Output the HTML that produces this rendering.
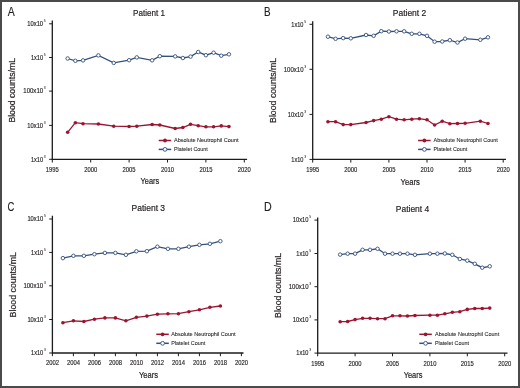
<!DOCTYPE html>
<html><head><meta charset="utf-8"><style>
html,body{margin:0;padding:0;background:#fff;}
body{width:520px;height:388px;overflow:hidden;position:relative;}
.frame{position:absolute;left:0;top:0;width:516px;height:384px;border:2px solid #4a4a4a;}
svg{position:absolute;left:0;top:0;will-change:transform;}
text{font-family:"Liberation Sans",sans-serif;stroke:#231f20;}
</style></head><body>
<div class="frame"></div>
<svg width="520" height="388" viewBox="0 0 520 388">
<text x="7.7" y="16.1" font-size="12" text-anchor="start" fill="#231f20" textLength="7.0" lengthAdjust="spacingAndGlyphs"  stroke-width="0.15">A</text>
<text x="133" y="15.8" font-size="9.3" text-anchor="start" fill="#231f20" textLength="32" lengthAdjust="spacingAndGlyphs"  stroke-width="0.2">Patient 1</text>
<path d="M52.3 20.5 V159.3 H247.1" fill="none" stroke="#1c1c1c" stroke-width="1.3"/>
<path d="M49.099999999999994 23.8 H52.3" stroke="#1c1c1c" stroke-width="1"/>
<text x="27.3" y="26.1" font-size="6.6" text-anchor="start" fill="#231f20" textLength="15.8" lengthAdjust="spacingAndGlyphs"  stroke-width="0.15">10x10</text>
<text x="43.8" y="22.0" font-size="3.4" text-anchor="start" fill="#231f20"  stroke-width="0.05">5</text>
<path d="M49.099999999999994 57.5 H52.3" stroke="#1c1c1c" stroke-width="1"/>
<text x="30.9" y="59.8" font-size="6.6" text-anchor="start" fill="#231f20" textLength="12.2" lengthAdjust="spacingAndGlyphs"  stroke-width="0.15">1x10</text>
<text x="43.8" y="55.7" font-size="3.4" text-anchor="start" fill="#231f20"  stroke-width="0.05">5</text>
<path d="M49.099999999999994 91.1 H52.3" stroke="#1c1c1c" stroke-width="1"/>
<text x="23.3" y="93.4" font-size="6.6" text-anchor="start" fill="#231f20" textLength="19.8" lengthAdjust="spacingAndGlyphs"  stroke-width="0.15">100x10</text>
<text x="43.8" y="89.3" font-size="3.4" text-anchor="start" fill="#231f20"  stroke-width="0.05">3</text>
<path d="M49.099999999999994 125.4 H52.3" stroke="#1c1c1c" stroke-width="1"/>
<text x="27.3" y="127.7" font-size="6.6" text-anchor="start" fill="#231f20" textLength="15.8" lengthAdjust="spacingAndGlyphs"  stroke-width="0.15">10x10</text>
<text x="43.8" y="123.6" font-size="3.4" text-anchor="start" fill="#231f20"  stroke-width="0.05">3</text>
<path d="M49.099999999999994 159.3 H52.3" stroke="#1c1c1c" stroke-width="1"/>
<text x="30.9" y="161.6" font-size="6.6" text-anchor="start" fill="#231f20" textLength="12.2" lengthAdjust="spacingAndGlyphs"  stroke-width="0.15">1x10</text>
<text x="43.8" y="157.5" font-size="3.4" text-anchor="start" fill="#231f20"  stroke-width="0.05">3</text>
<path d="M52.3 159.3 V162.5" stroke="#1c1c1c" stroke-width="1"/>
<text x="52.3" y="171.7" font-size="6.6" text-anchor="middle" fill="#231f20" textLength="13.0" lengthAdjust="spacingAndGlyphs"  stroke-width="0.15">1995</text>
<path d="M90.7 159.3 V162.5" stroke="#1c1c1c" stroke-width="1"/>
<text x="90.7" y="171.7" font-size="6.6" text-anchor="middle" fill="#231f20" textLength="13.0" lengthAdjust="spacingAndGlyphs"  stroke-width="0.15">2000</text>
<path d="M129.1 159.3 V162.5" stroke="#1c1c1c" stroke-width="1"/>
<text x="129.1" y="171.7" font-size="6.6" text-anchor="middle" fill="#231f20" textLength="13.0" lengthAdjust="spacingAndGlyphs"  stroke-width="0.15">2005</text>
<path d="M167.5 159.3 V162.5" stroke="#1c1c1c" stroke-width="1"/>
<text x="167.5" y="171.7" font-size="6.6" text-anchor="middle" fill="#231f20" textLength="13.0" lengthAdjust="spacingAndGlyphs"  stroke-width="0.15">2010</text>
<path d="M205.9 159.3 V162.5" stroke="#1c1c1c" stroke-width="1"/>
<text x="205.9" y="171.7" font-size="6.6" text-anchor="middle" fill="#231f20" textLength="13.0" lengthAdjust="spacingAndGlyphs"  stroke-width="0.15">2015</text>
<path d="M244.3 159.3 V162.5" stroke="#1c1c1c" stroke-width="1"/>
<text x="244.3" y="171.7" font-size="6.6" text-anchor="middle" fill="#231f20" textLength="13.0" lengthAdjust="spacingAndGlyphs"  stroke-width="0.15">2020</text>
<text x="140.5" y="184.3" font-size="8.5" text-anchor="start" fill="#231f20" textLength="18.7" lengthAdjust="spacingAndGlyphs"  stroke-width="0.2">Years</text>
<text transform="translate(15.1 122.6) rotate(-90)" x="0" y="0" font-size="8.4" fill="#231f20" stroke-width="0.2" textLength="64.6" lengthAdjust="spacingAndGlyphs">Blood counts/mL</text>
<polyline points="67.66,58.5 75.34,60.8 83.02,60.4 98.38,55.4 113.74,62.9 129.1,60.2 136.78,57.4 152.14,60.3 159.82,56.2 175.18,56.4 182.86,58 190.54,56.6 198.22,52 205.9,55.2 213.58,52.7 221.26,55.7 228.94,54.3" fill="none" stroke="#34507c" stroke-width="1.3"/>
<circle cx="67.66" cy="58.5" r="1.75" fill="#fff" stroke="#34507c" stroke-width="0.9"/>
<circle cx="75.34" cy="60.8" r="1.75" fill="#fff" stroke="#34507c" stroke-width="0.9"/>
<circle cx="83.02" cy="60.4" r="1.75" fill="#fff" stroke="#34507c" stroke-width="0.9"/>
<circle cx="98.38" cy="55.4" r="1.75" fill="#fff" stroke="#34507c" stroke-width="0.9"/>
<circle cx="113.74" cy="62.9" r="1.75" fill="#fff" stroke="#34507c" stroke-width="0.9"/>
<circle cx="129.1" cy="60.2" r="1.75" fill="#fff" stroke="#34507c" stroke-width="0.9"/>
<circle cx="136.78" cy="57.4" r="1.75" fill="#fff" stroke="#34507c" stroke-width="0.9"/>
<circle cx="152.14" cy="60.3" r="1.75" fill="#fff" stroke="#34507c" stroke-width="0.9"/>
<circle cx="159.82" cy="56.2" r="1.75" fill="#fff" stroke="#34507c" stroke-width="0.9"/>
<circle cx="175.18" cy="56.4" r="1.75" fill="#fff" stroke="#34507c" stroke-width="0.9"/>
<circle cx="182.86" cy="58" r="1.75" fill="#fff" stroke="#34507c" stroke-width="0.9"/>
<circle cx="190.54" cy="56.6" r="1.75" fill="#fff" stroke="#34507c" stroke-width="0.9"/>
<circle cx="198.22" cy="52" r="1.75" fill="#fff" stroke="#34507c" stroke-width="0.9"/>
<circle cx="205.9" cy="55.2" r="1.75" fill="#fff" stroke="#34507c" stroke-width="0.9"/>
<circle cx="213.58" cy="52.7" r="1.75" fill="#fff" stroke="#34507c" stroke-width="0.9"/>
<circle cx="221.26" cy="55.7" r="1.75" fill="#fff" stroke="#34507c" stroke-width="0.9"/>
<circle cx="228.94" cy="54.3" r="1.75" fill="#fff" stroke="#34507c" stroke-width="0.9"/>
<polyline points="67.66,132.3 75.34,122.7 83.02,123.7 98.38,124 113.74,126.2 129.1,126.5 136.78,126.2 152.14,124.5 159.82,125 175.18,128.5 182.86,127.5 190.54,124.3 198.22,125.7 205.9,126.8 213.58,126.8 221.26,125.9 228.94,126.6" fill="none" stroke="#9c1530" stroke-width="1.3"/>
<circle cx="67.66" cy="132.3" r="1.8" fill="#9c1530"/>
<circle cx="75.34" cy="122.7" r="1.8" fill="#9c1530"/>
<circle cx="83.02" cy="123.7" r="1.8" fill="#9c1530"/>
<circle cx="98.38" cy="124" r="1.8" fill="#9c1530"/>
<circle cx="113.74" cy="126.2" r="1.8" fill="#9c1530"/>
<circle cx="129.1" cy="126.5" r="1.8" fill="#9c1530"/>
<circle cx="136.78" cy="126.2" r="1.8" fill="#9c1530"/>
<circle cx="152.14" cy="124.5" r="1.8" fill="#9c1530"/>
<circle cx="159.82" cy="125" r="1.8" fill="#9c1530"/>
<circle cx="175.18" cy="128.5" r="1.8" fill="#9c1530"/>
<circle cx="182.86" cy="127.5" r="1.8" fill="#9c1530"/>
<circle cx="190.54" cy="124.3" r="1.8" fill="#9c1530"/>
<circle cx="198.22" cy="125.7" r="1.8" fill="#9c1530"/>
<circle cx="205.9" cy="126.8" r="1.8" fill="#9c1530"/>
<circle cx="213.58" cy="126.8" r="1.8" fill="#9c1530"/>
<circle cx="221.26" cy="125.9" r="1.8" fill="#9c1530"/>
<circle cx="228.94" cy="126.6" r="1.8" fill="#9c1530"/>
<path d="M158.7 140.5 h12.5" stroke="#9c1530" stroke-width="1.5"/><circle cx="165.0" cy="140.5" r="1.9" fill="#9c1530"/>
<path d="M158.7 149.4 h12.5" stroke="#34507c" stroke-width="1.5"/><circle cx="165.0" cy="149.4" r="1.9" fill="#fff" stroke="#34507c" stroke-width="0.9"/>
<text x="174" y="142.0" font-size="5.7" text-anchor="start" fill="#231f20" textLength="64.5" lengthAdjust="spacingAndGlyphs"  stroke-width="0.08">Absolute Neutrophil Count</text>
<text x="174" y="151.3" font-size="5.7" text-anchor="start" fill="#231f20" textLength="33.7" lengthAdjust="spacingAndGlyphs"  stroke-width="0.08">Platelet Count</text>
<text x="263.9" y="16.0" font-size="12" text-anchor="start" fill="#231f20" textLength="6.6" lengthAdjust="spacingAndGlyphs"  stroke-width="0.15">B</text>
<text x="392.8" y="16.2" font-size="9.3" text-anchor="start" fill="#231f20" textLength="33.4" lengthAdjust="spacingAndGlyphs"  stroke-width="0.2">Patient 2</text>
<path d="M312.7 21.2 V159.4 H506" fill="none" stroke="#1c1c1c" stroke-width="1.3"/>
<path d="M309.5 24.3 H312.7" stroke="#1c1c1c" stroke-width="1"/>
<text x="291.3" y="26.6" font-size="6.6" text-anchor="start" fill="#231f20" textLength="12.2" lengthAdjust="spacingAndGlyphs"  stroke-width="0.15">1x10</text>
<text x="304.2" y="22.5" font-size="3.4" text-anchor="start" fill="#231f20"  stroke-width="0.05">5</text>
<path d="M309.5 69.3 H312.7" stroke="#1c1c1c" stroke-width="1"/>
<text x="283.7" y="71.6" font-size="6.6" text-anchor="start" fill="#231f20" textLength="19.8" lengthAdjust="spacingAndGlyphs"  stroke-width="0.15">100x10</text>
<text x="304.2" y="67.5" font-size="3.4" text-anchor="start" fill="#231f20"  stroke-width="0.05">3</text>
<path d="M309.5 114.4 H312.7" stroke="#1c1c1c" stroke-width="1"/>
<text x="287.7" y="116.7" font-size="6.6" text-anchor="start" fill="#231f20" textLength="15.8" lengthAdjust="spacingAndGlyphs"  stroke-width="0.15">10x10</text>
<text x="304.2" y="112.6" font-size="3.4" text-anchor="start" fill="#231f20"  stroke-width="0.05">3</text>
<path d="M309.5 159.4 H312.7" stroke="#1c1c1c" stroke-width="1"/>
<text x="291.3" y="161.7" font-size="6.6" text-anchor="start" fill="#231f20" textLength="12.2" lengthAdjust="spacingAndGlyphs"  stroke-width="0.15">1x10</text>
<text x="304.2" y="157.6" font-size="3.4" text-anchor="start" fill="#231f20"  stroke-width="0.05">3</text>
<path d="M312.7 159.4 V162.6" stroke="#1c1c1c" stroke-width="1"/>
<text x="312.7" y="171.8" font-size="6.6" text-anchor="middle" fill="#231f20" textLength="13.0" lengthAdjust="spacingAndGlyphs"  stroke-width="0.15">1995</text>
<path d="M350.8 159.4 V162.6" stroke="#1c1c1c" stroke-width="1"/>
<text x="350.8" y="171.8" font-size="6.6" text-anchor="middle" fill="#231f20" textLength="13.0" lengthAdjust="spacingAndGlyphs"  stroke-width="0.15">2000</text>
<path d="M388.9 159.4 V162.6" stroke="#1c1c1c" stroke-width="1"/>
<text x="388.9" y="171.8" font-size="6.6" text-anchor="middle" fill="#231f20" textLength="13.0" lengthAdjust="spacingAndGlyphs"  stroke-width="0.15">2005</text>
<path d="M427.0 159.4 V162.6" stroke="#1c1c1c" stroke-width="1"/>
<text x="427.0" y="171.8" font-size="6.6" text-anchor="middle" fill="#231f20" textLength="13.0" lengthAdjust="spacingAndGlyphs"  stroke-width="0.15">2010</text>
<path d="M465.1 159.4 V162.6" stroke="#1c1c1c" stroke-width="1"/>
<text x="465.1" y="171.8" font-size="6.6" text-anchor="middle" fill="#231f20" textLength="13.0" lengthAdjust="spacingAndGlyphs"  stroke-width="0.15">2015</text>
<path d="M503.2 159.4 V162.6" stroke="#1c1c1c" stroke-width="1"/>
<text x="503.2" y="171.8" font-size="6.6" text-anchor="middle" fill="#231f20" textLength="13.0" lengthAdjust="spacingAndGlyphs"  stroke-width="0.15">2020</text>
<text x="400.5" y="184.5" font-size="8.5" text-anchor="start" fill="#231f20" textLength="19.3" lengthAdjust="spacingAndGlyphs"  stroke-width="0.2">Years</text>
<text transform="translate(275.9 122.9) rotate(-90)" x="0" y="0" font-size="8.4" fill="#231f20" stroke-width="0.2" textLength="65.1" lengthAdjust="spacingAndGlyphs">Blood counts/mL</text>
<polyline points="327.94,36.7 335.56,38.8 343.18,38.1 350.8,38.3 366.04,35 373.66,35.8 381.28,31.2 388.9,31.5 396.52,31.3 404.14,31.3 411.76,33.8 419.38,33.8 427.0,35.8 434.62,41.7 442.24,41.5 449.86,40.2 457.48,42.5 465.1,38.7 480.34,39.8 487.96,37.3" fill="none" stroke="#34507c" stroke-width="1.3"/>
<circle cx="327.94" cy="36.7" r="1.75" fill="#fff" stroke="#34507c" stroke-width="0.9"/>
<circle cx="335.56" cy="38.8" r="1.75" fill="#fff" stroke="#34507c" stroke-width="0.9"/>
<circle cx="343.18" cy="38.1" r="1.75" fill="#fff" stroke="#34507c" stroke-width="0.9"/>
<circle cx="350.8" cy="38.3" r="1.75" fill="#fff" stroke="#34507c" stroke-width="0.9"/>
<circle cx="366.04" cy="35" r="1.75" fill="#fff" stroke="#34507c" stroke-width="0.9"/>
<circle cx="373.66" cy="35.8" r="1.75" fill="#fff" stroke="#34507c" stroke-width="0.9"/>
<circle cx="381.28" cy="31.2" r="1.75" fill="#fff" stroke="#34507c" stroke-width="0.9"/>
<circle cx="388.9" cy="31.5" r="1.75" fill="#fff" stroke="#34507c" stroke-width="0.9"/>
<circle cx="396.52" cy="31.3" r="1.75" fill="#fff" stroke="#34507c" stroke-width="0.9"/>
<circle cx="404.14" cy="31.3" r="1.75" fill="#fff" stroke="#34507c" stroke-width="0.9"/>
<circle cx="411.76" cy="33.8" r="1.75" fill="#fff" stroke="#34507c" stroke-width="0.9"/>
<circle cx="419.38" cy="33.8" r="1.75" fill="#fff" stroke="#34507c" stroke-width="0.9"/>
<circle cx="427.0" cy="35.8" r="1.75" fill="#fff" stroke="#34507c" stroke-width="0.9"/>
<circle cx="434.62" cy="41.7" r="1.75" fill="#fff" stroke="#34507c" stroke-width="0.9"/>
<circle cx="442.24" cy="41.5" r="1.75" fill="#fff" stroke="#34507c" stroke-width="0.9"/>
<circle cx="449.86" cy="40.2" r="1.75" fill="#fff" stroke="#34507c" stroke-width="0.9"/>
<circle cx="457.48" cy="42.5" r="1.75" fill="#fff" stroke="#34507c" stroke-width="0.9"/>
<circle cx="465.1" cy="38.7" r="1.75" fill="#fff" stroke="#34507c" stroke-width="0.9"/>
<circle cx="480.34" cy="39.8" r="1.75" fill="#fff" stroke="#34507c" stroke-width="0.9"/>
<circle cx="487.96" cy="37.3" r="1.75" fill="#fff" stroke="#34507c" stroke-width="0.9"/>
<polyline points="327.94,121.7 335.56,121.7 343.18,124.6 350.8,124.6 366.04,122.5 373.66,120.6 381.28,119.2 388.9,116.7 396.52,119.2 404.14,119.8 411.76,119.2 419.38,118.7 427.0,119.8 434.62,125 442.24,121.2 449.86,123.7 457.48,123.5 465.1,123.3 480.34,121.2 487.96,123.5" fill="none" stroke="#9c1530" stroke-width="1.3"/>
<circle cx="327.94" cy="121.7" r="1.8" fill="#9c1530"/>
<circle cx="335.56" cy="121.7" r="1.8" fill="#9c1530"/>
<circle cx="343.18" cy="124.6" r="1.8" fill="#9c1530"/>
<circle cx="350.8" cy="124.6" r="1.8" fill="#9c1530"/>
<circle cx="366.04" cy="122.5" r="1.8" fill="#9c1530"/>
<circle cx="373.66" cy="120.6" r="1.8" fill="#9c1530"/>
<circle cx="381.28" cy="119.2" r="1.8" fill="#9c1530"/>
<circle cx="388.9" cy="116.7" r="1.8" fill="#9c1530"/>
<circle cx="396.52" cy="119.2" r="1.8" fill="#9c1530"/>
<circle cx="404.14" cy="119.8" r="1.8" fill="#9c1530"/>
<circle cx="411.76" cy="119.2" r="1.8" fill="#9c1530"/>
<circle cx="419.38" cy="118.7" r="1.8" fill="#9c1530"/>
<circle cx="427.0" cy="119.8" r="1.8" fill="#9c1530"/>
<circle cx="434.62" cy="125" r="1.8" fill="#9c1530"/>
<circle cx="442.24" cy="121.2" r="1.8" fill="#9c1530"/>
<circle cx="449.86" cy="123.7" r="1.8" fill="#9c1530"/>
<circle cx="457.48" cy="123.5" r="1.8" fill="#9c1530"/>
<circle cx="465.1" cy="123.3" r="1.8" fill="#9c1530"/>
<circle cx="480.34" cy="121.2" r="1.8" fill="#9c1530"/>
<circle cx="487.96" cy="123.5" r="1.8" fill="#9c1530"/>
<path d="M418.1 140.5 h12.5" stroke="#9c1530" stroke-width="1.5"/><circle cx="424.40000000000003" cy="140.5" r="1.9" fill="#9c1530"/>
<path d="M418.1 149.4 h12.5" stroke="#34507c" stroke-width="1.5"/><circle cx="424.40000000000003" cy="149.4" r="1.9" fill="#fff" stroke="#34507c" stroke-width="0.9"/>
<text x="433.5" y="142.0" font-size="5.7" text-anchor="start" fill="#231f20" textLength="64.4" lengthAdjust="spacingAndGlyphs"  stroke-width="0.08">Absolute Neutrophil Count</text>
<text x="433.5" y="151.3" font-size="5.7" text-anchor="start" fill="#231f20" textLength="33.7" lengthAdjust="spacingAndGlyphs"  stroke-width="0.08">Platelet Count</text>
<text x="7.4" y="211.0" font-size="12" text-anchor="start" fill="#231f20" textLength="6.8" lengthAdjust="spacingAndGlyphs"  stroke-width="0.15">C</text>
<text x="131.5" y="211.1" font-size="9.3" text-anchor="start" fill="#231f20" textLength="33.6" lengthAdjust="spacingAndGlyphs"  stroke-width="0.2">Patient 3</text>
<path d="M52.4 215.8 V353.0 H243.5" fill="none" stroke="#1c1c1c" stroke-width="1.3"/>
<path d="M49.199999999999996 219 H52.4" stroke="#1c1c1c" stroke-width="1"/>
<text x="27.4" y="221.3" font-size="6.6" text-anchor="start" fill="#231f20" textLength="15.8" lengthAdjust="spacingAndGlyphs"  stroke-width="0.15">10x10</text>
<text x="43.9" y="217.2" font-size="3.4" text-anchor="start" fill="#231f20"  stroke-width="0.05">5</text>
<path d="M49.199999999999996 252.4 H52.4" stroke="#1c1c1c" stroke-width="1"/>
<text x="31.0" y="254.7" font-size="6.6" text-anchor="start" fill="#231f20" textLength="12.2" lengthAdjust="spacingAndGlyphs"  stroke-width="0.15">1x10</text>
<text x="43.9" y="250.6" font-size="3.4" text-anchor="start" fill="#231f20"  stroke-width="0.05">5</text>
<path d="M49.199999999999996 285.8 H52.4" stroke="#1c1c1c" stroke-width="1"/>
<text x="23.4" y="288.1" font-size="6.6" text-anchor="start" fill="#231f20" textLength="19.8" lengthAdjust="spacingAndGlyphs"  stroke-width="0.15">100x10</text>
<text x="43.9" y="284.0" font-size="3.4" text-anchor="start" fill="#231f20"  stroke-width="0.05">3</text>
<path d="M49.199999999999996 319.5 H52.4" stroke="#1c1c1c" stroke-width="1"/>
<text x="27.4" y="321.8" font-size="6.6" text-anchor="start" fill="#231f20" textLength="15.8" lengthAdjust="spacingAndGlyphs"  stroke-width="0.15">10x10</text>
<text x="43.9" y="317.7" font-size="3.4" text-anchor="start" fill="#231f20"  stroke-width="0.05">3</text>
<path d="M49.199999999999996 353 H52.4" stroke="#1c1c1c" stroke-width="1"/>
<text x="31.0" y="355.3" font-size="6.6" text-anchor="start" fill="#231f20" textLength="12.2" lengthAdjust="spacingAndGlyphs"  stroke-width="0.15">1x10</text>
<text x="43.9" y="351.2" font-size="3.4" text-anchor="start" fill="#231f20"  stroke-width="0.05">3</text>
<path d="M52.4 353.0 V356.2" stroke="#1c1c1c" stroke-width="1"/>
<text x="52.4" y="365.4" font-size="6.6" text-anchor="middle" fill="#231f20" textLength="13.0" lengthAdjust="spacingAndGlyphs"  stroke-width="0.15">2002</text>
<path d="M73.4 353.0 V356.2" stroke="#1c1c1c" stroke-width="1"/>
<text x="73.4" y="365.4" font-size="6.6" text-anchor="middle" fill="#231f20" textLength="13.0" lengthAdjust="spacingAndGlyphs"  stroke-width="0.15">2004</text>
<path d="M94.4 353.0 V356.2" stroke="#1c1c1c" stroke-width="1"/>
<text x="94.4" y="365.4" font-size="6.6" text-anchor="middle" fill="#231f20" textLength="13.0" lengthAdjust="spacingAndGlyphs"  stroke-width="0.15">2006</text>
<path d="M115.4 353.0 V356.2" stroke="#1c1c1c" stroke-width="1"/>
<text x="115.4" y="365.4" font-size="6.6" text-anchor="middle" fill="#231f20" textLength="13.0" lengthAdjust="spacingAndGlyphs"  stroke-width="0.15">2008</text>
<path d="M136.4 353.0 V356.2" stroke="#1c1c1c" stroke-width="1"/>
<text x="136.4" y="365.4" font-size="6.6" text-anchor="middle" fill="#231f20" textLength="13.0" lengthAdjust="spacingAndGlyphs"  stroke-width="0.15">2010</text>
<path d="M157.4 353.0 V356.2" stroke="#1c1c1c" stroke-width="1"/>
<text x="157.4" y="365.4" font-size="6.6" text-anchor="middle" fill="#231f20" textLength="13.0" lengthAdjust="spacingAndGlyphs"  stroke-width="0.15">2012</text>
<path d="M178.4 353.0 V356.2" stroke="#1c1c1c" stroke-width="1"/>
<text x="178.4" y="365.4" font-size="6.6" text-anchor="middle" fill="#231f20" textLength="13.0" lengthAdjust="spacingAndGlyphs"  stroke-width="0.15">2014</text>
<path d="M199.4 353.0 V356.2" stroke="#1c1c1c" stroke-width="1"/>
<text x="199.4" y="365.4" font-size="6.6" text-anchor="middle" fill="#231f20" textLength="13.0" lengthAdjust="spacingAndGlyphs"  stroke-width="0.15">2016</text>
<path d="M220.4 353.0 V356.2" stroke="#1c1c1c" stroke-width="1"/>
<text x="220.4" y="365.4" font-size="6.6" text-anchor="middle" fill="#231f20" textLength="13.0" lengthAdjust="spacingAndGlyphs"  stroke-width="0.15">2018</text>
<path d="M241.4 353.0 V356.2" stroke="#1c1c1c" stroke-width="1"/>
<text x="241.4" y="365.4" font-size="6.6" text-anchor="middle" fill="#231f20" textLength="13.0" lengthAdjust="spacingAndGlyphs"  stroke-width="0.15">2020</text>
<text x="139" y="377.8" font-size="8.5" text-anchor="start" fill="#231f20" textLength="19.1" lengthAdjust="spacingAndGlyphs"  stroke-width="0.2">Years</text>
<text transform="translate(15.8 317.4) rotate(-90)" x="0" y="0" font-size="8.4" fill="#231f20" stroke-width="0.2" textLength="65.4" lengthAdjust="spacingAndGlyphs">Blood counts/mL</text>
<polyline points="62.9,258.1 73.4,255.8 83.9,255.8 94.4,254.2 104.9,252.9 115.4,252.9 125.9,254.8 136.4,251.3 146.9,251.2 157.4,246.7 167.9,248.8 178.4,248.8 188.9,246.7 199.4,244.8 209.9,243.8 220.4,241.2" fill="none" stroke="#34507c" stroke-width="1.3"/>
<circle cx="62.9" cy="258.1" r="1.75" fill="#fff" stroke="#34507c" stroke-width="0.9"/>
<circle cx="73.4" cy="255.8" r="1.75" fill="#fff" stroke="#34507c" stroke-width="0.9"/>
<circle cx="83.9" cy="255.8" r="1.75" fill="#fff" stroke="#34507c" stroke-width="0.9"/>
<circle cx="94.4" cy="254.2" r="1.75" fill="#fff" stroke="#34507c" stroke-width="0.9"/>
<circle cx="104.9" cy="252.9" r="1.75" fill="#fff" stroke="#34507c" stroke-width="0.9"/>
<circle cx="115.4" cy="252.9" r="1.75" fill="#fff" stroke="#34507c" stroke-width="0.9"/>
<circle cx="125.9" cy="254.8" r="1.75" fill="#fff" stroke="#34507c" stroke-width="0.9"/>
<circle cx="136.4" cy="251.3" r="1.75" fill="#fff" stroke="#34507c" stroke-width="0.9"/>
<circle cx="146.9" cy="251.2" r="1.75" fill="#fff" stroke="#34507c" stroke-width="0.9"/>
<circle cx="157.4" cy="246.7" r="1.75" fill="#fff" stroke="#34507c" stroke-width="0.9"/>
<circle cx="167.9" cy="248.8" r="1.75" fill="#fff" stroke="#34507c" stroke-width="0.9"/>
<circle cx="178.4" cy="248.8" r="1.75" fill="#fff" stroke="#34507c" stroke-width="0.9"/>
<circle cx="188.9" cy="246.7" r="1.75" fill="#fff" stroke="#34507c" stroke-width="0.9"/>
<circle cx="199.4" cy="244.8" r="1.75" fill="#fff" stroke="#34507c" stroke-width="0.9"/>
<circle cx="209.9" cy="243.8" r="1.75" fill="#fff" stroke="#34507c" stroke-width="0.9"/>
<circle cx="220.4" cy="241.2" r="1.75" fill="#fff" stroke="#34507c" stroke-width="0.9"/>
<polyline points="62.9,322.7 73.4,320.8 83.9,321.5 94.4,319.2 104.9,317.9 115.4,317.9 125.9,320.8 136.4,317.3 146.9,316.1 157.4,314.2 167.9,313.8 178.4,313.7 188.9,311.7 199.4,309.8 209.9,307.3 220.4,306" fill="none" stroke="#9c1530" stroke-width="1.3"/>
<circle cx="62.9" cy="322.7" r="1.8" fill="#9c1530"/>
<circle cx="73.4" cy="320.8" r="1.8" fill="#9c1530"/>
<circle cx="83.9" cy="321.5" r="1.8" fill="#9c1530"/>
<circle cx="94.4" cy="319.2" r="1.8" fill="#9c1530"/>
<circle cx="104.9" cy="317.9" r="1.8" fill="#9c1530"/>
<circle cx="115.4" cy="317.9" r="1.8" fill="#9c1530"/>
<circle cx="125.9" cy="320.8" r="1.8" fill="#9c1530"/>
<circle cx="136.4" cy="317.3" r="1.8" fill="#9c1530"/>
<circle cx="146.9" cy="316.1" r="1.8" fill="#9c1530"/>
<circle cx="157.4" cy="314.2" r="1.8" fill="#9c1530"/>
<circle cx="167.9" cy="313.8" r="1.8" fill="#9c1530"/>
<circle cx="178.4" cy="313.7" r="1.8" fill="#9c1530"/>
<circle cx="188.9" cy="311.7" r="1.8" fill="#9c1530"/>
<circle cx="199.4" cy="309.8" r="1.8" fill="#9c1530"/>
<circle cx="209.9" cy="307.3" r="1.8" fill="#9c1530"/>
<circle cx="220.4" cy="306" r="1.8" fill="#9c1530"/>
<path d="M156.3 334.3 h12.5" stroke="#9c1530" stroke-width="1.5"/><circle cx="162.60000000000002" cy="334.3" r="1.9" fill="#9c1530"/>
<path d="M156.3 343.3 h12.5" stroke="#34507c" stroke-width="1.5"/><circle cx="162.60000000000002" cy="343.3" r="1.9" fill="#fff" stroke="#34507c" stroke-width="0.9"/>
<text x="171.2" y="335.8" font-size="5.7" text-anchor="start" fill="#231f20" textLength="64.4" lengthAdjust="spacingAndGlyphs"  stroke-width="0.08">Absolute Neutrophil Count</text>
<text x="171.2" y="345.2" font-size="5.7" text-anchor="start" fill="#231f20" textLength="34.2" lengthAdjust="spacingAndGlyphs"  stroke-width="0.08">Platelet Count</text>
<text x="263.9" y="210.7" font-size="12" text-anchor="start" fill="#231f20" textLength="7.7" lengthAdjust="spacingAndGlyphs"  stroke-width="0.15">D</text>
<text x="395.8" y="212.3" font-size="9.3" text-anchor="start" fill="#231f20" textLength="33.4" lengthAdjust="spacingAndGlyphs"  stroke-width="0.2">Patient 4</text>
<path d="M317.7 217.4 V353.1 H507.5" fill="none" stroke="#1c1c1c" stroke-width="1.3"/>
<path d="M314.5 220.1 H317.7" stroke="#1c1c1c" stroke-width="1"/>
<text x="292.7" y="222.4" font-size="6.6" text-anchor="start" fill="#231f20" textLength="15.8" lengthAdjust="spacingAndGlyphs"  stroke-width="0.15">10x10</text>
<text x="309.2" y="218.3" font-size="3.4" text-anchor="start" fill="#231f20"  stroke-width="0.05">5</text>
<path d="M314.5 253.5 H317.7" stroke="#1c1c1c" stroke-width="1"/>
<text x="296.3" y="255.8" font-size="6.6" text-anchor="start" fill="#231f20" textLength="12.2" lengthAdjust="spacingAndGlyphs"  stroke-width="0.15">1x10</text>
<text x="309.2" y="251.7" font-size="3.4" text-anchor="start" fill="#231f20"  stroke-width="0.05">5</text>
<path d="M314.5 286.7 H317.7" stroke="#1c1c1c" stroke-width="1"/>
<text x="288.7" y="289.0" font-size="6.6" text-anchor="start" fill="#231f20" textLength="19.8" lengthAdjust="spacingAndGlyphs"  stroke-width="0.15">100x10</text>
<text x="309.2" y="284.9" font-size="3.4" text-anchor="start" fill="#231f20"  stroke-width="0.05">3</text>
<path d="M314.5 319.9 H317.7" stroke="#1c1c1c" stroke-width="1"/>
<text x="292.7" y="322.2" font-size="6.6" text-anchor="start" fill="#231f20" textLength="15.8" lengthAdjust="spacingAndGlyphs"  stroke-width="0.15">10x10</text>
<text x="309.2" y="318.1" font-size="3.4" text-anchor="start" fill="#231f20"  stroke-width="0.05">3</text>
<path d="M314.5 353.1 H317.7" stroke="#1c1c1c" stroke-width="1"/>
<text x="296.3" y="355.4" font-size="6.6" text-anchor="start" fill="#231f20" textLength="12.2" lengthAdjust="spacingAndGlyphs"  stroke-width="0.15">1x10</text>
<text x="309.2" y="351.3" font-size="3.4" text-anchor="start" fill="#231f20"  stroke-width="0.05">3</text>
<path d="M317.7 353.1 V356.3" stroke="#1c1c1c" stroke-width="1"/>
<text x="317.7" y="365.5" font-size="6.6" text-anchor="middle" fill="#231f20" textLength="13.0" lengthAdjust="spacingAndGlyphs"  stroke-width="0.15">1995</text>
<path d="M355.1 353.1 V356.3" stroke="#1c1c1c" stroke-width="1"/>
<text x="355.1" y="365.5" font-size="6.6" text-anchor="middle" fill="#231f20" textLength="13.0" lengthAdjust="spacingAndGlyphs"  stroke-width="0.15">2000</text>
<path d="M392.5 353.1 V356.3" stroke="#1c1c1c" stroke-width="1"/>
<text x="392.5" y="365.5" font-size="6.6" text-anchor="middle" fill="#231f20" textLength="13.0" lengthAdjust="spacingAndGlyphs"  stroke-width="0.15">2005</text>
<path d="M429.9 353.1 V356.3" stroke="#1c1c1c" stroke-width="1"/>
<text x="429.9" y="365.5" font-size="6.6" text-anchor="middle" fill="#231f20" textLength="13.0" lengthAdjust="spacingAndGlyphs"  stroke-width="0.15">2010</text>
<path d="M467.3 353.1 V356.3" stroke="#1c1c1c" stroke-width="1"/>
<text x="467.3" y="365.5" font-size="6.6" text-anchor="middle" fill="#231f20" textLength="13.0" lengthAdjust="spacingAndGlyphs"  stroke-width="0.15">2015</text>
<path d="M504.7 353.1 V356.3" stroke="#1c1c1c" stroke-width="1"/>
<text x="504.7" y="365.5" font-size="6.6" text-anchor="middle" fill="#231f20" textLength="13.0" lengthAdjust="spacingAndGlyphs"  stroke-width="0.15">2020</text>
<text x="403.7" y="377.8" font-size="8.5" text-anchor="start" fill="#231f20" textLength="18.8" lengthAdjust="spacingAndGlyphs"  stroke-width="0.2">Years</text>
<text transform="translate(280.6 317.9) rotate(-90)" x="0" y="0" font-size="8.4" fill="#231f20" stroke-width="0.2" textLength="64.9" lengthAdjust="spacingAndGlyphs">Blood counts/mL</text>
<polyline points="340.14,254.6 347.62,253.7 355.1,253.7 362.58,249.8 370.06,249.8 377.54,248.8 385.02,253.7 392.5,253.7 399.98,253.7 407.46,253.7 414.94,254.8 429.9,253.7 437.38,253.7 444.86,253.5 452.34,254.8 459.82,259 467.3,260.6 474.78,263.8 482.26,267.7 489.74,266.3" fill="none" stroke="#34507c" stroke-width="1.3"/>
<circle cx="340.14" cy="254.6" r="1.75" fill="#fff" stroke="#34507c" stroke-width="0.9"/>
<circle cx="347.62" cy="253.7" r="1.75" fill="#fff" stroke="#34507c" stroke-width="0.9"/>
<circle cx="355.1" cy="253.7" r="1.75" fill="#fff" stroke="#34507c" stroke-width="0.9"/>
<circle cx="362.58" cy="249.8" r="1.75" fill="#fff" stroke="#34507c" stroke-width="0.9"/>
<circle cx="370.06" cy="249.8" r="1.75" fill="#fff" stroke="#34507c" stroke-width="0.9"/>
<circle cx="377.54" cy="248.8" r="1.75" fill="#fff" stroke="#34507c" stroke-width="0.9"/>
<circle cx="385.02" cy="253.7" r="1.75" fill="#fff" stroke="#34507c" stroke-width="0.9"/>
<circle cx="392.5" cy="253.7" r="1.75" fill="#fff" stroke="#34507c" stroke-width="0.9"/>
<circle cx="399.98" cy="253.7" r="1.75" fill="#fff" stroke="#34507c" stroke-width="0.9"/>
<circle cx="407.46" cy="253.7" r="1.75" fill="#fff" stroke="#34507c" stroke-width="0.9"/>
<circle cx="414.94" cy="254.8" r="1.75" fill="#fff" stroke="#34507c" stroke-width="0.9"/>
<circle cx="429.9" cy="253.7" r="1.75" fill="#fff" stroke="#34507c" stroke-width="0.9"/>
<circle cx="437.38" cy="253.7" r="1.75" fill="#fff" stroke="#34507c" stroke-width="0.9"/>
<circle cx="444.86" cy="253.5" r="1.75" fill="#fff" stroke="#34507c" stroke-width="0.9"/>
<circle cx="452.34" cy="254.8" r="1.75" fill="#fff" stroke="#34507c" stroke-width="0.9"/>
<circle cx="459.82" cy="259" r="1.75" fill="#fff" stroke="#34507c" stroke-width="0.9"/>
<circle cx="467.3" cy="260.6" r="1.75" fill="#fff" stroke="#34507c" stroke-width="0.9"/>
<circle cx="474.78" cy="263.8" r="1.75" fill="#fff" stroke="#34507c" stroke-width="0.9"/>
<circle cx="482.26" cy="267.7" r="1.75" fill="#fff" stroke="#34507c" stroke-width="0.9"/>
<circle cx="489.74" cy="266.3" r="1.75" fill="#fff" stroke="#34507c" stroke-width="0.9"/>
<polyline points="340.14,321.7 347.62,321.5 355.1,319.6 362.58,318.3 370.06,318.3 377.54,318.7 385.02,318.7 392.5,315.8 399.98,315.8 407.46,316 414.94,315.5 429.9,315.2 437.38,315.2 444.86,313.8 452.34,312.3 459.82,311.7 467.3,309.4 474.78,308.5 482.26,308.5 489.74,308.1" fill="none" stroke="#9c1530" stroke-width="1.3"/>
<circle cx="340.14" cy="321.7" r="1.8" fill="#9c1530"/>
<circle cx="347.62" cy="321.5" r="1.8" fill="#9c1530"/>
<circle cx="355.1" cy="319.6" r="1.8" fill="#9c1530"/>
<circle cx="362.58" cy="318.3" r="1.8" fill="#9c1530"/>
<circle cx="370.06" cy="318.3" r="1.8" fill="#9c1530"/>
<circle cx="377.54" cy="318.7" r="1.8" fill="#9c1530"/>
<circle cx="385.02" cy="318.7" r="1.8" fill="#9c1530"/>
<circle cx="392.5" cy="315.8" r="1.8" fill="#9c1530"/>
<circle cx="399.98" cy="315.8" r="1.8" fill="#9c1530"/>
<circle cx="407.46" cy="316" r="1.8" fill="#9c1530"/>
<circle cx="414.94" cy="315.5" r="1.8" fill="#9c1530"/>
<circle cx="429.9" cy="315.2" r="1.8" fill="#9c1530"/>
<circle cx="437.38" cy="315.2" r="1.8" fill="#9c1530"/>
<circle cx="444.86" cy="313.8" r="1.8" fill="#9c1530"/>
<circle cx="452.34" cy="312.3" r="1.8" fill="#9c1530"/>
<circle cx="459.82" cy="311.7" r="1.8" fill="#9c1530"/>
<circle cx="467.3" cy="309.4" r="1.8" fill="#9c1530"/>
<circle cx="474.78" cy="308.5" r="1.8" fill="#9c1530"/>
<circle cx="482.26" cy="308.5" r="1.8" fill="#9c1530"/>
<circle cx="489.74" cy="308.1" r="1.8" fill="#9c1530"/>
<path d="M419.3 334.3 h12.5" stroke="#9c1530" stroke-width="1.5"/><circle cx="425.6" cy="334.3" r="1.9" fill="#9c1530"/>
<path d="M419.3 343.3 h12.5" stroke="#34507c" stroke-width="1.5"/><circle cx="425.6" cy="343.3" r="1.9" fill="#fff" stroke="#34507c" stroke-width="0.9"/>
<text x="435" y="335.8" font-size="5.7" text-anchor="start" fill="#231f20" textLength="64.2" lengthAdjust="spacingAndGlyphs"  stroke-width="0.08">Absolute Neutrophil Count</text>
<text x="435" y="345.2" font-size="5.7" text-anchor="start" fill="#231f20" textLength="34" lengthAdjust="spacingAndGlyphs"  stroke-width="0.08">Platelet Count</text>
</svg>
</body></html>
